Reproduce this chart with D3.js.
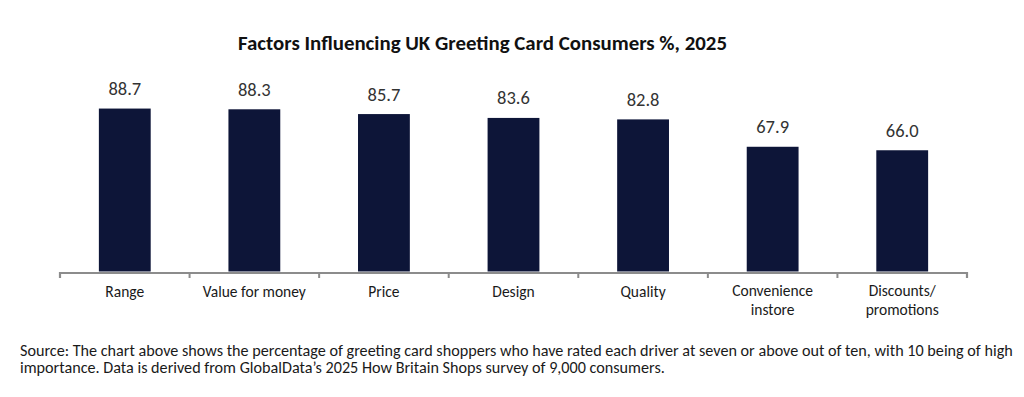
<!DOCTYPE html>
<html>
<head>
<meta charset="utf-8">
<script src="https://cdn.jsdelivr.net/npm/d3@7"></script>
<style>
  html, body { margin: 0; padding: 0; background: #fff; }
  svg { display: block; }
  text { font-family: Carlito, "Open Sans", "Noto Sans", sans-serif; }
</style>
</head>
<body>
<svg id="chart" width="1024" height="397"></svg>
<script>
const categories = ["Range", "Value for money", "Price", "Design", "Quality", "Convenience\ninstore", "Discounts/\npromotions"];
const values = [88.7, 88.3, 85.7, 83.6, 82.8, 67.9, 66.0];
const titleText = "Factors Influencing UK Greeting Card Consumers %, 2025";
const sourceLines = [
  "Source: The chart above shows the percentage of greeting card shoppers who have rated each driver at seven or above out of ten, with 10 being of high",
  "importance. Data is derived from GlobalData\u2019s 2025 How Britain Shops survey of 9,000 consumers."
];

const svg = d3.select("#chart");

function fitWidth(sel, target) {
  const node = sel.node();
  let fs = parseFloat(sel.attr("font-size"));
  const w = node.getComputedTextLength();
  fs = fs * target / w;
  sel.attr("font-size", fs.toFixed(2));
  return fs;
}

const x = d3.scaleBand().domain(categories).range([60, 967]).paddingInner(0.6).paddingOuter(0.3);
const y = d3.scaleLinear().domain([0, 100]).range([271.5, 87.8]);

// bars
svg.append("g").selectAll("rect").data(values).join("rect")
  .attr("x", (d, i) => x(categories[i]))
  .attr("width", x.bandwidth())
  .attr("y", d => y(d))
  .attr("height", d => y(0) - y(d))
  .attr("fill", "#0d1538");

// value labels
svg.append("g").selectAll("text").data(values).join("text")
  .attr("x", (d, i) => x(categories[i]) + x.bandwidth() / 2)
  .attr("y", d => y(d) - 13.5)
  .attr("text-anchor", "middle")
  .attr("font-size", 18.5)
  .attr("fill", "#333333")
  .text(d => d.toFixed(1));

// axis
const xAxisScale = d3.scaleBand().domain(categories).range([60, 967]);
const axis = d3.axisBottom(xAxisScale).tickSize(0).tickFormat("");
const ag = svg.append("g").attr("transform", "translate(0,273)").call(axis);
ag.select(".domain").attr("stroke", "#8c8c8c").attr("stroke-width", 2.2)
  .attr("d", "M60,5V0H967V5");
// boundary ticks
const bounds = categories.map(c => xAxisScale(c)).slice(1);
ag.selectAll(".bt").data(bounds).join("line").attr("class", "bt")
  .attr("x1", d => d).attr("x2", d => d).attr("y1", 0).attr("y2", 5)
  .attr("stroke", "#8c8c8c").attr("stroke-width", 2);

// category labels
const cl = svg.append("g").selectAll("text").data(categories).join("text")
  .attr("x", d => xAxisScale(d) + xAxisScale.bandwidth() / 2)
  .attr("y", 297)
  .attr("text-anchor", "middle")
  .attr("font-size", 15.5)
  .attr("fill", "#1a1a1a");
cl.each(function(d) {
  const lines = d.split("\n");
  const t = d3.select(this);
  lines.forEach((l, i) => {
    t.append("tspan").attr("x", t.attr("x")).attr("dy", i === 0 ? 0 : 19.5).text(l);
  });
  if (lines.length > 1) t.attr("y", 295.5);
});

// title
const title = svg.append("text")
  .attr("x", 482.5).attr("y", 50)
  .attr("text-anchor", "middle")
  .attr("font-size", 16)
  .attr("font-weight", "bold")
  .attr("fill", "#111111")
  .text(titleText);
fitWidth(title, 489);

// source
const s1 = svg.append("text").attr("x", 20).attr("y", 356).attr("font-size", 12.5).attr("fill", "#1a1a1a").text(sourceLines[0]);
const fs = fitWidth(s1, 993);
svg.append("text").attr("x", 20).attr("y", 373).attr("font-size", fs.toFixed(2)).attr("fill", "#1a1a1a").text(sourceLines[1]);
</script>
</body>
</html>
